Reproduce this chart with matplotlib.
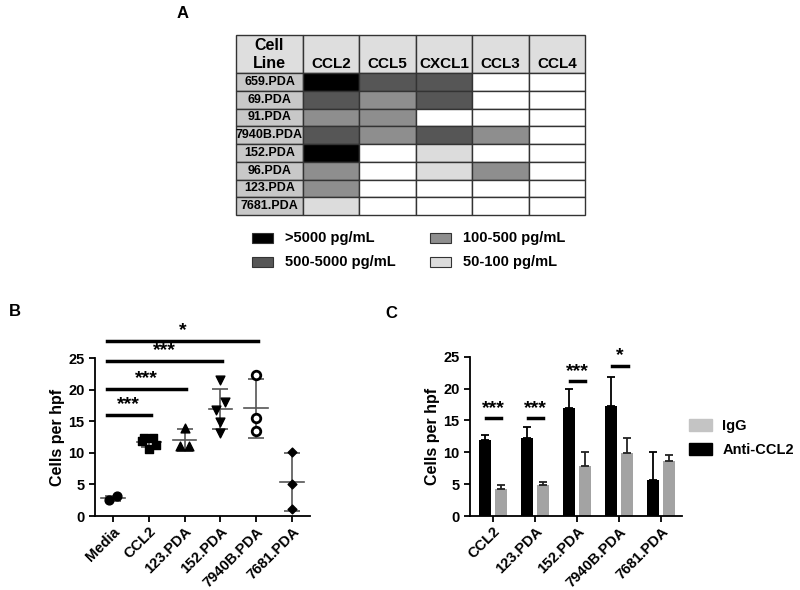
import numpy as np
import matplotlib.pyplot as plt
from matplotlib.patches import Rectangle, Patch

plt.rcParams['font.family'] = ['Liberation Sans', 'DejaVu Sans']
plt.rcParams['font.weight'] = 'bold'
plt.rcParams['axes.labelweight'] = 'bold'

# ---- данные панели A (таблица уровней цитокинов)
cell_lines = ['659.PDA', '69.PDA', '91.PDA', '7940B.PDA', '152.PDA', '96.PDA', '123.PDA', '7681.PDA']
cytokines = ['CCL2', 'CCL5', 'CXCL1', 'CCL3', 'CCL4']
# 0 = нет, 1 = 50-100, 2 = 100-500, 3 = 500-5000, 4 = >5000 pg/mL
levels = [
    [4, 3, 3, 0, 0],
    [3, 2, 3, 0, 0],
    [2, 2, 0, 0, 0],
    [3, 2, 3, 2, 0],
    [4, 0, 1, 0, 0],
    [2, 0, 1, 2, 0],
    [2, 0, 0, 0, 0],
    [1, 0, 0, 0, 0],
]
level_colors = ['#ffffff', '#dcdcdc', '#8e8e8e', '#565656', '#000000']
legend_levels = [4, 3, 2, 1]
legend_labels = ['>5000 pg/mL', '500-5000 pg/mL', '100-500 pg/mL', '50-100 pg/mL']

# ---- данные панели B (точки)
b_groups = ['Media', 'CCL2', '123.PDA', '152.PDA', '7940B.PDA', '7681.PDA']
b_values = [
    [2.5, 3.1],
    [12.4, 12.4, 11.9, 10.6, 11.3],
    [14.0, 11.0, 11.1],
    [21.5, 18.1, 16.8, 14.8, 13.2],
    [22.3, 15.5, 13.4],
    [10.2, 5.0, 1.1],
]
b_jitter = [
    [-0.11, 0.11],
    [-0.12, 0.12, -0.2, 0.0, 0.2],
    [0.0, -0.12, 0.12],
    [0.0, 0.12, -0.12, 0.0, 0.0],
    [0.0, 0.0, 0.0],
    [0.0, 0.0, 0.0],
]
b_markers = ['o', 's', '^', 'v', 'o', 'D']
b_sig_end = [1, 2, 3, 4]
b_sig_y = [16.0, 20.1, 24.5, 27.7]
b_sig_text = ['***', '***', '***', '*']

# ---- данные панели C (столбцы)
c_groups = ['CCL2', '123.PDA', '152.PDA', '7940B.PDA', '7681.PDA']
anti_ccl2 = [11.9, 12.3, 16.9, 17.3, 5.7]
anti_ccl2_err = [0.8, 1.7, 3.1, 4.5, 4.3]
igg = [4.3, 4.8, 7.9, 9.9, 8.6]
igg_err = [0.5, 0.6, 2.2, 2.4, 0.9]
c_sig_y = [15.4, 15.4, 21.2, 23.6]
c_sig_text = ['***', '***', '***', '*']

fig = plt.figure(figsize=(8, 5.9), dpi=100)

# общий слой в пикселях для таблицы и подписей
ov = fig.add_axes([0, 0, 1, 1])
ov.set_xlim(0, 800)
ov.set_ylim(590, 0)
ov.axis('off')

ov.text(183, 13, 'A', fontsize=12, ha='center', va='center')
ov.text(15, 312, 'B', fontsize=12, ha='center', va='center')
ov.text(391, 314, 'C', fontsize=12, ha='center', va='center')

# таблица
x0, y0 = 236, 35
col_edges = [0, 67, 123, 180, 236, 293, 349]
head_h = 38
row_h = 17.75
edge = '#333333'

ov.add_patch(Rectangle((x0, y0), col_edges[1], head_h, fc='#dedede', ec=edge, lw=1))
ov.text(x0 + col_edges[1] / 2, y0 + 11, 'Cell', fontsize=11.5, ha='center', va='center')
ov.text(x0 + col_edges[1] / 2, y0 + 29, 'Line', fontsize=11.5, ha='center', va='center')
for j, name in enumerate(cytokines):
    xa = x0 + col_edges[j + 1]
    w = col_edges[j + 2] - col_edges[j + 1]
    ov.add_patch(Rectangle((xa, y0), w, head_h, fc='#dedede', ec=edge, lw=1))
    ov.text(xa + w / 2, y0 + 29, name, fontsize=11, ha='center', va='center')

for i, line in enumerate(cell_lines):
    ya = y0 + head_h + i * row_h
    ov.add_patch(Rectangle((x0, ya), col_edges[1], row_h, fc='#c8c8c8', ec=edge, lw=1))
    ov.text(x0 + col_edges[1] / 2, ya + row_h / 2, line, fontsize=9, ha='center', va='center')
    for j in range(len(cytokines)):
        xa = x0 + col_edges[j + 1]
        w = col_edges[j + 2] - col_edges[j + 1]
        ov.add_patch(Rectangle((xa, ya), w, row_h, fc=level_colors[levels[i][j]], ec=edge, lw=1))

# легенда таблицы
leg_pos = [(252, 233), (252, 257), (430, 233), (430, 257)]
for (lx, ly), lev, lab in zip(leg_pos, legend_levels, legend_labels):
    ov.add_patch(Rectangle((lx, ly), 21, 10, fc=level_colors[lev], ec='#333333', lw=0.8))
    ov.text(lx + 33, ly + 5, lab, fontsize=10.5, ha='left', va='center')


def style_axes(ax):
    for s in ['top', 'right']:
        ax.spines[s].set_visible(False)
    for s in ['left', 'bottom']:
        ax.spines[s].set_linewidth(1.3)
    ax.tick_params(width=1.3, length=4, labelsize=10.5)
    ax.tick_params(axis='x', pad=2)
    ax.set_ylim(0, 25)
    ax.set_yticks([0, 5, 10, 15, 20, 25])
    ax.set_ylabel('Cells per hpf', fontsize=11.5, labelpad=2)


# ---- панель B
axb = fig.add_axes([95 / 800, 1 - 516 / 590, 215 / 800, 158 / 590])
for i, (vals, jit, mk) in enumerate(zip(b_values, b_jitter, b_markers)):
    vals = np.array(vals)
    xs = i + np.array(jit)
    m = vals.mean()
    sd = vals.std(ddof=1)
    axb.plot([i - 0.33, i + 0.33], [m, m], color='#555555', lw=1.2, zorder=2)
    axb.errorbar(i, m, yerr=sd, color='#555555', lw=1.2, capsize=6, capthick=1.2, zorder=2)
    if i == 4:
        axb.scatter(xs, vals, marker=mk, s=38, facecolors='white', edgecolors='black', linewidths=2, zorder=3)
    elif mk == 'D':
        axb.scatter(xs, vals, marker=mk, s=20, color='black', zorder=3)
    else:
        axb.scatter(xs, vals, marker=mk, s=40, color='black', zorder=3)
axb.set_xlim(-0.5, 5.5)
axb.set_xticks(range(len(b_groups)))
axb.set_xticklabels(b_groups, rotation=45, ha='right', rotation_mode='anchor', fontsize=10)
style_axes(axb)
for end, y, txt in zip(b_sig_end, b_sig_y, b_sig_text):
    axb.plot([-0.17, end + 0.05], [y, y], color='black', lw=2.5, clip_on=False)
    axb.text((end - 0.12) / 2, y + 0.3, txt, fontsize=14, ha='center', va='bottom', clip_on=False)

# ---- панель C
axc = fig.add_axes([470 / 800, 1 - 516 / 590, 212 / 800, 159.3 / 590])
x = np.arange(len(c_groups))
w = 0.28
axc.bar(x - 0.19, anti_ccl2, w, color='black', label='Anti-CCL2',
        yerr=[np.zeros(len(x)), anti_ccl2_err], error_kw=dict(ecolor='black', lw=1.3, capsize=3, capthick=1.3))
axc.bar(x + 0.19, igg, w, color='#a3a3a3', label='IgG',
        yerr=[np.zeros(len(x)), igg_err], error_kw=dict(ecolor='#222222', lw=1.3, capsize=3, capthick=1.3))
axc.set_xlim(-0.54, 4.49)
axc.set_xticks(x)
axc.set_xticklabels(c_groups, rotation=45, ha='right', rotation_mode='anchor', fontsize=10)
style_axes(axc)
for i, (y, txt) in enumerate(zip(c_sig_y, c_sig_text)):
    axc.plot([i - 0.17, i + 0.2], [y, y], color='black', lw=2.5, clip_on=False)
    axc.text(i + 0.02, y + 0.2, txt, fontsize=14, ha='center', va='bottom', clip_on=False)

handles = [Patch(color='#c4c4c4'), Patch(color='black')]
axc.legend(handles, ['IgG', 'Anti-CCL2'], loc='center left', bbox_to_anchor=(686 / 800, 1 - 438 / 590),
           bbox_transform=fig.transFigure, frameon=False, fontsize=10.5, handlelength=1.6,
           handleheight=0.9, labelspacing=0.7, handletextpad=0.7, borderaxespad=0, borderpad=0.2)

fig.savefig('out.png', dpi=100)
